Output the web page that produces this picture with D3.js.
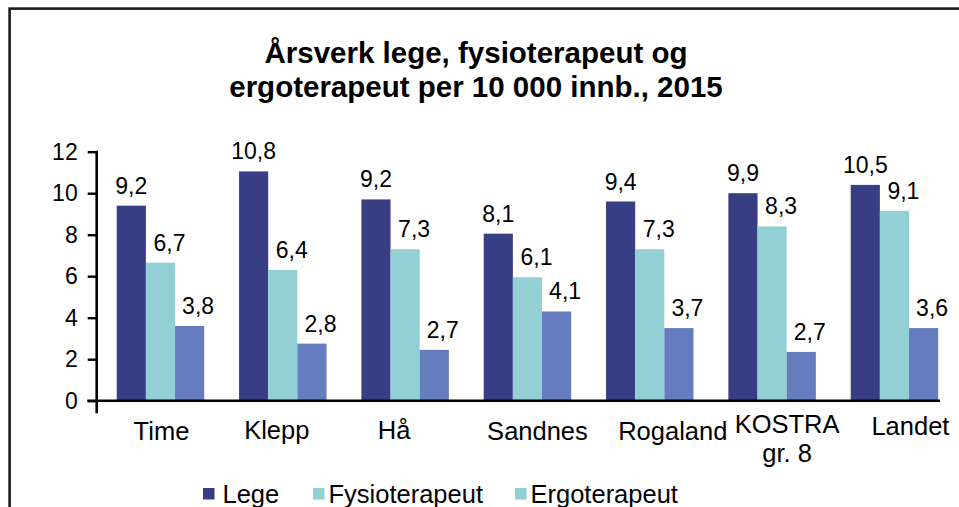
<!DOCTYPE html>
<html>
<head>
<meta charset="utf-8">
<script src="https://cdn.jsdelivr.net/npm/d3@7"></script>
<style>
  body { margin: 0; background: #fff; }
  svg { display: block; font-family: "Liberation Sans", Arial, sans-serif; }
</style>
</head>
<body>
<div id="chart"></div>
<script>
// Categories and series (bar heights, label texts as printed)
const categories = ["Time", "Klepp", "Hå", "Sandnes", "Rogaland", "KOSTRA\ngr. 8", "Landet"];
const seriesNames = ["Lege", "Fysioterapeut", "Ergoterapeut"];
const lege = [9.4, 11.05, 9.7, 8.05, 9.6, 10.0, 10.4];
const fysio = [6.65, 6.3, 7.3, 5.95, 7.3, 8.4, 9.15];
const ergo = [3.6, 2.75, 2.45, 4.3, 3.5, 2.35, 3.5];
const legeLabels = ["9,2", "10,8", "9,2", "8,1", "9,4", "9,9", "10,5"];
const fysioLabels = ["6,7", "6,4", "7,3", "6,1", "7,3", "8,3", "9,1"];
const ergoLabels = ["3,8", "2,8", "2,7", "4,1", "3,7", "2,7", "3,6"];
const yTicks = [0, 2, 4, 6, 8, 10, 12];
const title = ["Årsverk lege, fysioterapeut og", "ergoterapeut per 10 000 innb., 2015"];

const barColors = ["#383e84", "#93d0d6", "#657dbf"];
const legendColors = ["#383e84", "#93d0d6", "#93d0d6"];

const width = 959, height = 507;

const svg = d3.select("#chart")
    .append("svg")
    .attr("width", width)
    .attr("height", height);

svg.append("rect")
    .attr("width", width)
    .attr("height", height)
    .attr("fill", "#fff");

// outer frame (runs off the right and bottom edges)
svg.append("rect")
    .attr("x", 9.6)
    .attr("y", 8.6)
    .attr("width", 1000)
    .attr("height", 600)
    .attr("fill", "none")
    .attr("stroke", "#1c1c1c")
    .attr("stroke-width", 2.6);

// title
svg.append("text")
    .attr("x", 476)
    .attr("y", 63)
    .attr("text-anchor", "middle")
    .attr("font-size", 29.5)
    .attr("font-weight", "bold")
    .selectAll("tspan")
    .data(title)
    .join("tspan")
    .attr("x", 476)
    .attr("dy", (d, i) => i === 0 ? 0 : 33.5)
    .text(d => d);

// scales
const x = d3.scaleBand()
    .domain(categories)
    .range([99.3, 955.6])
    .paddingInner(0.285)
    .paddingOuter(0.1425);

const xSub = d3.scaleBand()
    .domain(seriesNames)
    .range([0, x.bandwidth()]);

const y = d3.scaleLinear()
    .domain([0, 12])
    .range([400.7, 151.7]);

const table = categories.map((c, i) => ({
    category: c,
    values: [
        {key: "Lege", value: lege[i], label: legeLabels[i]},
        {key: "Fysioterapeut", value: fysio[i], label: fysioLabels[i]},
        {key: "Ergoterapeut", value: ergo[i], label: ergoLabels[i]}
    ]
}));

// bars
const groups = svg.append("g")
    .selectAll("g")
    .data(table)
    .join("g")
    .attr("transform", d => `translate(${x(d.category)},0)`);

groups.selectAll("rect")
    .data(d => d.values)
    .join("rect")
    .attr("x", d => xSub(d.key))
    .attr("y", d => y(d.value))
    .attr("width", xSub.bandwidth())
    .attr("height", d => y(0) - y(d.value))
    .attr("fill", (d, i) => barColors[i]);

// data labels (shifted a little like in the original)
const labelShift = [0, 9, 8.5];
groups.selectAll("text")
    .data(d => d.values)
    .join("text")
    .attr("x", (d, i) => xSub(d.key) + xSub.bandwidth() / 2 + labelShift[i])
    .attr("y", d => y(d.value) - 12)
    .attr("text-anchor", "middle")
    .attr("font-size", 23)
    .attr("fill", "#000")
    .text(d => d.label);

// y axis
const yAxis = d3.axisLeft(y)
    .tickValues(yTicks)
    .tickSize(9)
    .tickPadding(10)
    .tickFormat(d3.format("d"));

const yAxisGroup = svg.append("g")
    .attr("transform", "translate(96.7,0)")
    .call(yAxis);
yAxisGroup.select(".domain").remove();
yAxisGroup.selectAll(".tick line").attr("stroke", "#000").attr("stroke-width", 2.4);
yAxisGroup.selectAll(".tick text")
    .attr("font-size", 23)
    .attr("font-family", "Liberation Sans, Arial, sans-serif")
    .attr("fill", "#000");

svg.append("line")
    .attr("x1", 96.7).attr("x2", 96.7)
    .attr("y1", y(12) - 1).attr("y2", y(0) + 12.5)
    .attr("stroke", "#000")
    .attr("stroke-width", 2.6);

// x axis baseline
svg.append("line")
    .attr("x1", 87.3).attr("x2", 940)
    .attr("y1", y(0)).attr("y2", y(0))
    .attr("stroke", "#000")
    .attr("stroke-width", 2.6);

// category labels, nudged as in the original
const labelNudge = [[1, 0], [-6, -1], [-11, -1], [10, 0], [23, 0], [15, -7], [16, -5]];
const xAxis = d3.axisBottom(x).tickSize(0).tickFormat("");
const xAxisGroup = svg.append("g")
    .attr("transform", `translate(0,${y(0)})`)
    .call(xAxis);
xAxisGroup.select(".domain").remove();

xAxisGroup.selectAll(".tick")
    .append("text")
    .attr("x", (d, i) => labelNudge[i][0])
    .attr("y", (d, i) => 39.3 + labelNudge[i][1])
    .attr("text-anchor", "middle")
    .attr("font-size", 25.5)
    .attr("font-family", "Liberation Sans, Arial, sans-serif")
    .attr("fill", "#000")
    .each(function(d, i) {
        d3.select(this).selectAll("tspan")
            .data(d.split("\n"))
            .join("tspan")
            .attr("x", labelNudge[i][0])
            .attr("dy", (t, j) => j === 0 ? 0 : 29)
            .text(t => t);
    });

// legend
const legendX = [203, 313, 515];
const legend = svg.append("g")
    .selectAll("g")
    .data(seriesNames)
    .join("g")
    .attr("transform", (d, i) => `translate(${legendX[i]},488)`);

legend.append("rect")
    .attr("width", 11.5)
    .attr("height", 11.5)
    .attr("fill", (d, i) => legendColors[i]);

legend.append("text")
    .attr("x", (d, i) => i === 0 ? 19.5 : 15.5)
    .attr("y", 15.3)
    .attr("font-size", 25.5)
    .attr("fill", "#000")
    .text(d => d);
</script>
</body>
</html>
